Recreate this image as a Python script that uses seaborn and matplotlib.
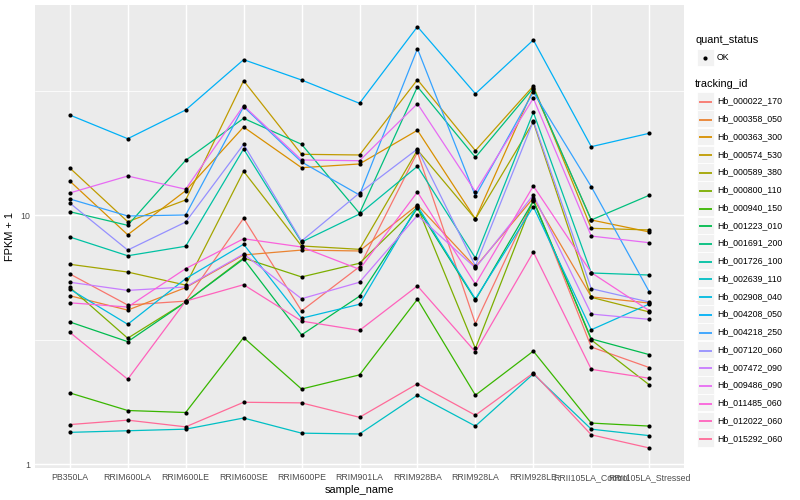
import numpy as np
import pandas as pd
import matplotlib
matplotlib.use("Agg")
import matplotlib.pyplot as plt
import seaborn as sns
from matplotlib.patches import Rectangle
from matplotlib.ticker import FixedLocator, NullFormatter, NullLocator

# ---------------- data ----------------
samples = ["PB350LA", "RRIM600LA", "RRIM600LE", "RRIM600SE", "RRIM600PE",
           "RRIM901LA", "RRIM928BA", "RRIM928LA", "RRIM928LE",
           "RRII105LA_Control", "RRII105LA_Stressed"]

tracking_ids = ["Hb_000022_170", "Hb_000358_050", "Hb_000363_300", "Hb_000574_530",
                "Hb_000589_380", "Hb_000800_110", "Hb_000940_150", "Hb_001223_010",
                "Hb_001691_200", "Hb_001726_100", "Hb_002639_110", "Hb_002908_040",
                "Hb_004208_050", "Hb_004218_250", "Hb_007120_060", "Hb_007472_090",
                "Hb_009486_090", "Hb_011485_060", "Hb_012022_060", "Hb_015292_060"]

quant_status = ["OK"]

# FPKM + 1 per sample (order of `samples`)
hb_000022_170 = [5.80, 4.35, 4.51, 9.70, 4.12, 6.20, 17.86, 3.66, 11.49, 2.95, 2.44]
hb_000358_050 = [4.74, 4.15, 5.11, 6.91, 7.23, 7.17, 10.97, 6.18, 11.70, 4.69, 4.43]
hb_000363_300 = [13.69, 8.33, 12.52, 22.56, 15.49, 16.03, 21.89, 9.64, 32.06, 9.55, 8.55]
hb_000574_530 = [15.45, 9.40, 11.49, 34.63, 17.53, 17.42, 34.95, 18.13, 32.96, 8.84, 8.71]
hb_000589_380 = [6.34, 5.90, 5.23, 14.98, 7.51, 7.28, 18.24, 9.64, 23.63, 4.67, 4.08]
hb_000800_110 = [5.12, 3.20, 4.47, 6.72, 5.64, 6.40, 10.77, 2.91, 11.49, 3.15, 2.08]
hb_000940_150 = [1.93, 1.64, 1.61, 3.22, 2.00, 2.28, 4.59, 1.89, 2.84, 1.46, 1.42]
hb_001223_010 = [3.72, 3.10, 4.47, 6.66, 3.30, 4.72, 10.67, 4.56, 11.39, 3.18, 2.75]
hb_001691_200 = [10.31, 9.09, 16.58, 24.45, 19.23, 10.16, 32.76, 17.05, 32.36, 9.55, 12.00]
hb_001726_100 = [8.16, 6.86, 7.49, 18.41, 7.79, 10.09, 15.69, 6.72, 25.85, 5.85, 5.74]
hb_002639_110 = [1.34, 1.36, 1.38, 1.53, 1.33, 1.32, 1.89, 1.42, 2.30, 1.38, 1.30]
hb_002908_040 = [5.04, 3.64, 5.55, 7.63, 3.85, 4.38, 10.87, 4.60, 10.80, 3.46, 4.39]
hb_004208_050 = [25.21, 20.25, 26.41, 42.05, 34.85, 28.09, 57.05, 30.69, 50.45, 18.81, 21.29]
hb_004218_250 = [11.60, 9.91, 10.00, 27.22, 16.33, 12.03, 46.55, 11.92, 31.19, 12.99, 4.92]
hb_007120_060 = [11.17, 7.23, 9.37, 19.23, 7.86, 12.26, 18.41, 6.24, 23.85, 5.06, 4.47]
hb_007472_090 = [5.37, 4.98, 5.14, 6.97, 4.61, 5.37, 9.97, 6.13, 12.03, 4.00, 3.81]
hb_009486_090 = [12.26, 14.34, 12.69, 27.48, 16.63, 16.52, 27.99, 12.41, 29.42, 8.23, 7.74]
hb_011485_060 = [4.44, 4.27, 6.09, 8.03, 7.44, 6.05, 12.37, 5.27, 13.08, 5.87, 4.13]
hb_012022_060 = [3.38, 2.19, 4.51, 5.25, 3.75, 3.44, 5.19, 2.82, 7.10, 2.40, 2.21]
hb_015292_060 = [1.44, 1.50, 1.41, 1.77, 1.76, 1.54, 2.10, 1.57, 2.32, 1.31, 1.16]

series = [hb_000022_170, hb_000358_050, hb_000363_300, hb_000574_530, hb_000589_380,
          hb_000800_110, hb_000940_150, hb_001223_010, hb_001691_200, hb_001726_100,
          hb_002639_110, hb_002908_040, hb_004208_050, hb_004218_250, hb_007120_060,
          hb_007472_090, hb_009486_090, hb_011485_060, hb_012022_060, hb_015292_060]

rows = []
for tid, vals in zip(tracking_ids, series):
    for i, (s, v) in enumerate(zip(samples, vals)):
        rows.append({"tracking_id": tid, "sample_name": s, "pos": i,
                     "fpkm1": v, "quant_status": "OK"})
df = pd.DataFrame(rows)


# ---------------- ggplot-like hue palette ----------------
def hcl_rgb(h, c=100.0, l=65.0):
    Xn, Yn, Zn = 95.047, 100.0, 108.883
    hr = np.deg2rad(h)
    u, v = c * np.cos(hr), c * np.sin(hr)
    Y = Yn * ((l + 16) / 116) ** 3
    den = Xn + 15 * Yn + 3 * Zn
    un, vn = 4 * Xn / den, 9 * Yn / den
    up, vp = u / (13 * l) + un, v / (13 * l) + vn
    X = Y * 9 * up / (4 * vp)
    Z = Y * (12 - 3 * up - 20 * vp) / (4 * vp)
    M = np.array([[3.2404542, -1.5371385, -0.4985314],
                  [-0.9692660, 1.8760108, 0.0415560],
                  [0.0556434, -0.2040259, 1.0572252]])
    lin = M @ (np.array([X, Y, Z]) / 100.0)
    out = []
    for t in lin:
        g = 12.92 * t if t <= 0.0031308 else 1.055 * t ** (1 / 2.4) - 0.055
        out.append(min(max(g, 0.0), 1.0))
    return tuple(out)


hues = np.linspace(15, 375, len(tracking_ids) + 1)[:-1]
palette = {tid: hcl_rgb(h) for tid, h in zip(tracking_ids, hues)}

# ---------------- figure ----------------
sns.set_theme(style="darkgrid")
plt.rcParams["font.family"] = ["Liberation Sans", "DejaVu Sans"]

W, H = 800, 500
fig = plt.figure(figsize=(8, 5), dpi=100)
fig.patch.set_facecolor("white")
pl, pr, pt, pb = 35, 684, 5, 468
ax = fig.add_axes([pl / W, 1 - pb / H, (pr - pl) / W, (pb - pt) / H])
ax.set_facecolor("#EBEBEB")

sns.lineplot(data=df, x="pos", y="fpkm1", hue="tracking_id", palette=palette,
             hue_order=tracking_ids, estimator=None, sort=False, legend=False,
             linewidth=0.9, ax=ax, zorder=2)
sns.scatterplot(data=df, x="pos", y="fpkm1", color="black", s=9, linewidth=0,
                legend=False, ax=ax, zorder=3)

ax.set_yscale("log")
ax.set_ylim(10 ** (-4 / 249), 10 ** (459 / 249))
ax.set_xlim(-0.6, len(samples) - 1 + 0.6)

ax.yaxis.set_major_locator(FixedLocator([1, 10]))
ax.set_yticklabels(["1", "10"])
ax.yaxis.set_minor_locator(FixedLocator([10 ** 0.5, 10 ** 1.5]))
ax.yaxis.set_minor_formatter(NullFormatter())
ax.set_xticks(range(len(samples)))
ax.set_xticklabels(samples)
ax.xaxis.set_minor_locator(NullLocator())

ax.grid(False)
ax.grid(which="major", color="white", linewidth=1.05)
ax.grid(which="minor", axis="y", color="white", linewidth=0.55)
ax.set_axisbelow(True)
for sp in ax.spines.values():
    sp.set_visible(False)

ax.tick_params(axis="both", which="major", length=2.0, width=0.8, color="#333333",
               labelsize=6.35, labelcolor="#4D4D4D", pad=1.6)
ax.tick_params(axis="y", which="minor", length=0)

ax.set_xlabel("sample_name", fontsize=7.9, color="black", labelpad=2.5)
ax.set_ylabel("FPKM + 1", fontsize=7.9, color="black", labelpad=4)

# ---------------- legend (drawn in pixel space) ----------------
lg = fig.add_axes([0, 0, 1, 1], facecolor="none")
lg.set_xlim(0, W)
lg.set_ylim(H, 0)
lg.axis("off")

kx, kw, kh = 697, 16.5, 17.3
tx = 717
lg.text(695, 40, "quant_status", fontsize=7.9, va="center", ha="left", color="black")
lg.add_patch(Rectangle((kx, 57.5 - kh / 2), kw, kh, facecolor="#F2F2F2",
                       edgecolor="white", linewidth=0.6))
lg.scatter([kx + kw / 2], [57.5], s=9, color="black", linewidth=0)
lg.text(tx, 57.5, quant_status[0], fontsize=6.35, va="center", ha="left", color="black")

lg.text(695, 84, "tracking_id", fontsize=7.9, va="center", ha="left", color="black")
y0, dy = 101, 17.75
for i, tid in enumerate(tracking_ids):
    yc = round(y0 + dy * i) + 0.5
    lg.add_patch(Rectangle((kx, y0 + dy * i - kh / 2), kw, kh, facecolor="#F2F2F2",
                           edgecolor="white", linewidth=0.6))
    lg.plot([kx + 1.7, kx + kw - 1.7], [yc, yc], color=palette[tid],
            linewidth=1.3, solid_capstyle="butt")
    lg.text(tx, y0 + dy * i, tid, fontsize=6.35, va="center", ha="left", color="black")

fig.savefig("out.png", dpi=100)
